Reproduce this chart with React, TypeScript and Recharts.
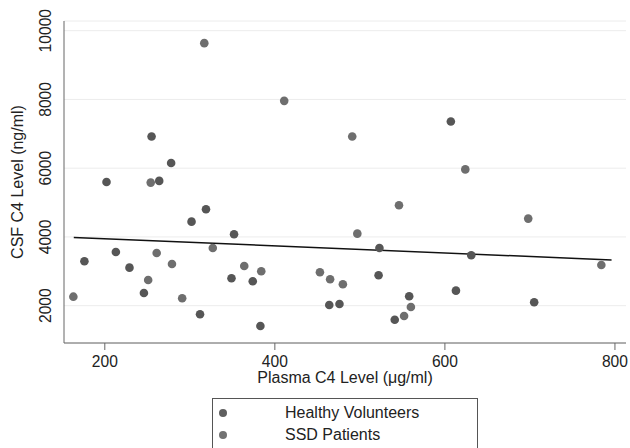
import { ScatterChart, Scatter, XAxis, YAxis, CartesianGrid, ReferenceLine, Legend } from "recharts";

const healthy = [
  { x: 202, y: 5600 }, { x: 255, y: 6920 }, { x: 278, y: 6150 }, { x: 264, y: 5630 },
  { x: 302, y: 4445 }, { x: 319, y: 4806 }, { x: 352, y: 4078 }, { x: 176, y: 3292 },
  { x: 213, y: 3563 }, { x: 229, y: 3106 }, { x: 246, y: 2370 }, { x: 312, y: 1750 },
  { x: 349, y: 2797 }, { x: 374, y: 2710 }, { x: 383, y: 1409 }, { x: 464, y: 2020 },
  { x: 476, y: 2049 }, { x: 523, y: 3680 }, { x: 522, y: 2885 }, { x: 558, y: 2274 },
  { x: 541, y: 1592 }, { x: 613, y: 2437 }, { x: 631, y: 3467 }, { x: 705, y: 2099 },
  { x: 607, y: 7356 },
];

const ssd = [
  { x: 317, y: 9638 }, { x: 411, y: 7959 }, { x: 254, y: 5580 }, { x: 327, y: 3680 },
  { x: 163, y: 2262 }, { x: 251, y: 2748 }, { x: 261, y: 3534 }, { x: 279, y: 3214 },
  { x: 291, y: 2215 }, { x: 364, y: 3156 }, { x: 384, y: 3001 }, { x: 453, y: 2972 },
  { x: 465, y: 2768 }, { x: 480, y: 2623 }, { x: 497, y: 4096 }, { x: 546, y: 4922 },
  { x: 624, y: 5965 }, { x: 560, y: 1962 }, { x: 552, y: 1700 }, { x: 698, y: 4533 },
  { x: 784, y: 3185 }, { x: 491, y: 6920 },
];

// fitted regression line endpoints
const fit = [
  { x: 163.5, y: 3985 },
  { x: 796, y: 3330 },
];

const xTicks = [200, 400, 600, 800];
const yTicks = [2000, 4000, 6000, 8000, 10000];

const series = [
  { name: "Healthy Volunteers", data: healthy, color: "#565656", legendColor: "#5f5f5f" },
  { name: "SSD Patients", data: ssd, color: "#6e6e6e", legendColor: "#727272" },
];

const font = "'Liberation Sans', Arial, sans-serif";

const XTick = ({ x, y, payload }: any) => (
  <text x={x} y={y + 17} textAnchor="middle" fontSize={15.6} fontFamily={font} fill="#222">
    {payload.value}
  </text>
);

const YTick = ({ x, y, payload }: any) => (
  <text
    x={x - 13}
    y={y}
    transform={`rotate(-90 ${x - 13} ${y})`}
    textAnchor="middle"
    fontSize={15.6}
    fontFamily={font}
    fill="#222"
  >
    {payload.value}
  </text>
);

const LegendBox = () => (
  <div
    style={{
      border: "1px solid #555",
      height: 70,
      boxSizing: "border-box",
      fontFamily: font,
      fontSize: 16,
      color: "#222",
      paddingTop: 3,
    }}
  >
    {series.map((s) => (
      <div key={s.name} style={{ display: "flex", alignItems: "center", height: 22 }}>
        <svg width={72} height={22}>
          <circle cx={10} cy={11} r={4} fill={s.legendColor} />
        </svg>
        <span>{s.name}</span>
      </div>
    ))}
  </div>
);

export default function App() {
  return (
    <div style={{ position: "absolute", left: 0, top: 0, width: 630, height: 448, overflow: "hidden", background: "#fff" }}>
      <ScatterChart width={630} height={448} margin={{ top: 21, right: 4, bottom: 65, left: 0 }}>
        <CartesianGrid vertical={false} stroke="#ececec" />
        <XAxis
          type="number"
          dataKey="x"
          domain={[152, 813]}
          allowDataOverflow
          ticks={xTicks}
          height={40}
          tickSize={7}
          tickMargin={0}
          stroke="#666"
          tick={<XTick />}
          label={{
            content: ({ viewBox }: any) => (
              <text x={viewBox.x + viewBox.width / 2} y={383} textAnchor="middle" fontSize={16} fontFamily={font} fill="#222">
                Plasma C4 Level (μg/ml)
              </text>
            ),
          }}
        />
        <YAxis
          type="number"
          dataKey="y"
          domain={[914, 10282]}
          allowDataOverflow
          ticks={yTicks}
          width={64}
          tickLine={false}
          tickSize={0}
          tickMargin={0}
          stroke="#666"
          tick={<YTick />}
          label={{
            content: ({ viewBox }: any) => {
              const cy = viewBox.y + viewBox.height / 2;
              return (
                <text x={23} y={cy} transform={`rotate(-90 23 ${cy})`} textAnchor="middle" fontSize={16} fontFamily={font} fill="#222">
                  CSF C4 Level (ng/ml)
                </text>
              );
            },
          }}
        />
        {series.map((s) => (
          <Scatter
            key={s.name}
            name={s.name}
            data={s.data}
            isAnimationActive={false}
            shape={(p: any) => <circle cx={p.cx} cy={p.cy} r={4.3} fill={s.color} />}
          />
        ))}
        <ReferenceLine segment={fit} stroke="#111" strokeWidth={1.5} ifOverflow="visible" />
        <Legend
          layout="vertical"
          align="center"
          verticalAlign="middle"
          wrapperStyle={{ left: 212, top: 398, width: 266 }}
          content={<LegendBox />}
        />
      </ScatterChart>
    </div>
  );
}
